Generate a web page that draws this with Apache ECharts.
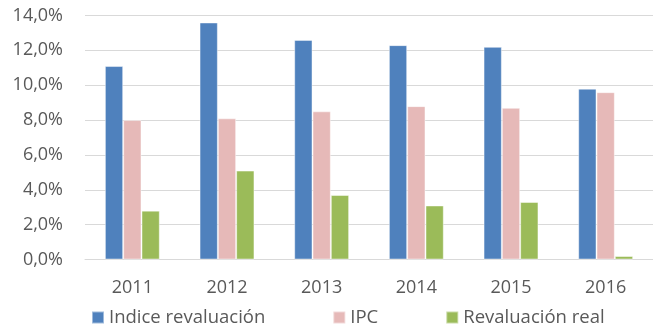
<!DOCTYPE html>
<html>
<head>
<meta charset="utf-8">
<script src="https://cdn.jsdelivr.net/npm/echarts@6/dist/echarts.min.js"></script>
<style>
  html, body { margin: 0; padding: 0; background: #ffffff; }
  #chart { width: 653px; height: 328px; }
</style>
</head>
<body>
<div id="chart"></div>
<script>
// Years on the category axis
const years = ['2011', '2012', '2013', '2014', '2015', '2016'];
// Annual percentages
const indiceRevaluacion = [11.1, 13.6, 12.6, 12.3, 12.2, 9.8];
const ipc = [8.0, 8.1, 8.5, 8.8, 8.7, 9.6];
const revaluacionReal = [2.8, 5.1, 3.7, 3.1, 3.3, 0.2];
// Value-axis range
const yMin = 0, yMax = 14, yStep = 2;

const textColor = '#595959';
const fontFamily = '"Open Sans", "Liberation Sans", Arial, sans-serif';

const chart = echarts.init(document.getElementById('chart'), null, { renderer: 'canvas' });

function barSeries(name, data, color) {
  return {
    name: name,
    type: 'bar',
    data: data,
    barGap: '0%',
    barCategoryGap: '42%',
    itemStyle: { color: color, borderColor: 'rgba(255,255,255,0.45)', borderWidth: 1 },
    emphasis: { disabled: true }
  };
}

chart.setOption({
  animation: false,
  textStyle: { fontFamily: fontFamily },
  grid: { left: 85, top: 15.5, width: 575.5, height: 244, containLabel: false },
  legend: {
    left: 91,
    top: 308,
    padding: 0,
    itemWidth: 12,
    itemHeight: 12,
    itemGap: 67,
    icon: 'rect',
    textStyle: { color: textColor, fontSize: 18.5, fontFamily: fontFamily },
    data: ['Indice revaluación', 'IPC', 'Revaluación real']
  },
  xAxis: {
    type: 'category',
    data: years,
    axisLine: { show: true, lineStyle: { color: '#d9d9d9', width: 1 } },
    axisTick: { show: false },
    axisLabel: { color: textColor, fontSize: 18, margin: 19, fontFamily: fontFamily }
  },
  yAxis: {
    type: 'value',
    min: yMin,
    max: yMax,
    interval: yStep,
    axisLine: { show: false },
    axisTick: { show: false },
    splitLine: { lineStyle: { color: '#d9d9d9', width: 1 } },
    axisLabel: {
      color: textColor,
      fontSize: 18,
      margin: 22,
      fontFamily: fontFamily,
      formatter: v => v.toFixed(1).replace('.', ',') + '%'
    }
  },
  series: [
    barSeries('Indice revaluación', indiceRevaluacion, '#4f81bd'),
    barSeries('IPC', ipc, '#e6b9b8'),
    barSeries('Revaluación real', revaluacionReal, '#9bbb59')
  ]
});
</script>
</body>
</html>
